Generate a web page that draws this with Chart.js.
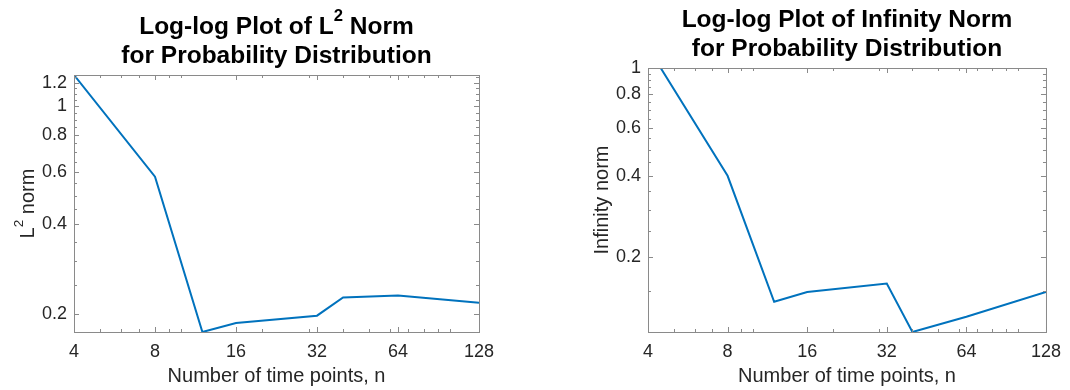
<!DOCTYPE html>
<html>
<head>
<meta charset="utf-8">
<script src="https://cdn.jsdelivr.net/npm/chart.js@4.4.1/dist/chart.umd.min.js"></script>
<style>
  body { margin: 0; background: #fff; }
  .panel { position: absolute; top: 0; width: 535px; height: 390px; }
</style>
</head>
<body>
<div class="panel" style="left:0"><canvas id="l2Chart" width="535" height="390"></canvas></div>
<div class="panel" style="left:535px"><canvas id="infChart" width="535" height="390"></canvas></div>
<script>
// number of time points and the two error norms
const timePoints = [4, 8, 12, 16, 32, 40, 64, 128];
const l2Norm = [1.274, 0.579, 0.1736, 0.186, 0.197, 0.2268, 0.2304, 0.2178];
const infNorm = [1.19, 0.4, 0.137, 0.149, 0.160, 0.106, 0.1206, 0.149];

// tick marks
const xTicks = [4, 8, 16, 32, 64, 128];
const xMinorTicks = [5, 6, 7, 9, 10, 20, 30, 40, 50, 60, 70, 80, 90, 100];
const l2Ticks = [0.2, 0.4, 0.6, 0.8, 1, 1.2];
const l2MinorTicks = [0.25, 0.3, 0.35, 0.45, 0.5, 0.55, 0.65, 0.7, 0.75, 0.85, 0.9, 0.95, 1.05, 1.1, 1.15, 1.25];
const infTicks = [0.2, 0.4, 0.6, 0.8, 1];
const infMinorTicks = [0.15, 0.25, 0.3, 0.35, 0.45, 0.5, 0.55, 0.65, 0.7, 0.75, 0.85, 0.9, 0.95];

const FONT = "'Liberation Sans', Arial, Helvetica, sans-serif";
const TEXT = '#262626';
const AXIS = '#8a8a8a';

Chart.defaults.font.family = FONT;
Chart.defaults.color = TEXT;

// draws a run of text pieces, some of them as superscripts, centred on x
function drawRich(ctx, pieces, x, y, size, weight) {
  const supSize = size * 0.68;
  const fontFor = p => `${weight} ${p.sup ? supSize : size}px ${FONT}`;
  let total = 0;
  pieces.forEach(p => { ctx.font = fontFor(p); total += ctx.measureText(p.t).width; });
  let cx = x - total / 2;
  ctx.textAlign = 'left';
  ctx.textBaseline = 'alphabetic';
  pieces.forEach(p => {
    ctx.font = fontFor(p);
    ctx.fillText(p.t, cx, p.sup ? y - size * 0.55 : y);
    cx += ctx.measureText(p.t).width;
  });
}

// box, inward ticks, title and y label
const matlabAxes = {
  id: 'matlabAxes',
  afterDatasetsDraw(chart, args, opts) {
    const { ctx, chartArea: a, scales: { x, y } } = chart;
    ctx.save();
    ctx.strokeStyle = AXIS;
    ctx.lineWidth = 1;
    ctx.beginPath();
    const xMarks = (list, len) => list.forEach(v => {
      const px = Math.round(x.getPixelForValue(v)) + 0.5;
      ctx.moveTo(px, a.bottom); ctx.lineTo(px, a.bottom - len);
      ctx.moveTo(px, a.top); ctx.lineTo(px, a.top + len);
    });
    const yMarks = (list, len) => list.forEach(v => {
      if (v < y.min || v > y.max) return;
      const py = Math.round(y.getPixelForValue(v)) + 0.5;
      ctx.moveTo(a.left, py); ctx.lineTo(a.left + len, py);
      ctx.moveTo(a.right, py); ctx.lineTo(a.right - len, py);
    });
    xMarks(xTicks, 5);
    xMarks(xMinorTicks, 3);
    yMarks(opts.major, 5);
    yMarks(opts.minor, 3);
    ctx.stroke();
    ctx.strokeRect(a.left + 0.5, a.top + 0.5, a.right - a.left, a.bottom - a.top);

    const midX = (a.left + a.right) / 2;
    ctx.fillStyle = '#000';
    drawRich(ctx, opts.title[0], midX, a.top - 41, 24.5, 'bold');
    drawRich(ctx, opts.title[1], midX, a.top - 12, 24.5, 'bold');

    ctx.fillStyle = TEXT;
    ctx.translate(a.left - 40, (a.top + a.bottom) / 2);
    ctx.rotate(-Math.PI / 2);
    drawRich(ctx, opts.yTitle, 0, 0, 20, 'normal');
    ctx.restore();
  }
};

function makeChart(id, values, yTicks, yMinor, yMax, pad, title, yTitle) {
  return new Chart(document.getElementById(id), {
    type: 'line',
    data: {
      datasets: [{
        data: timePoints.map((n, i) => ({ x: n, y: values[i] })),
        borderColor: '#0072BD',
        borderWidth: 2,
        pointRadius: 0,
        tension: 0
      }]
    },
    options: {
      responsive: false,
      animation: false,
      layout: { padding: { top: pad.top, right: pad.right, bottom: 0, left: 0 } },
      plugins: {
        legend: { display: false },
        tooltip: { enabled: false },
        matlabAxes: { major: yTicks, minor: yMinor, title: title, yTitle: yTitle }
      },
      scales: {
        x: {
          type: 'logarithmic',
          min: 4,
          max: 128,
          bounds: 'data',
          grid: { display: false, drawTicks: false },
          border: { display: false },
          afterBuildTicks: s => { s.ticks = xTicks.map(v => ({ value: v })); },
          afterFit: s => { s.height = 58; },
          ticks: {
            autoSkip: false,
            maxRotation: 0,
            padding: 9,
            color: TEXT,
            font: { size: 18 },
            callback: v => String(v)
          },
          title: {
            display: true,
            text: 'Number of time points, n',
            color: TEXT,
            font: { size: 20 },
            padding: { top: 0, bottom: 2 }
          }
        },
        y: {
          type: 'logarithmic',
          min: Math.min(...values),
          max: yMax,
          bounds: 'data',
          grid: { display: false, drawTicks: false },
          border: { display: false },
          afterBuildTicks: s => { s.ticks = yTicks.map(v => ({ value: v })); },
          afterFit: s => { s.width = pad.left; },
          ticks: {
            autoSkip: false,
            padding: 7,
            color: TEXT,
            font: { size: 18 },
            callback: v => String(v)
          }
        }
      }
    },
    plugins: [matlabAxes]
  });
}

makeChart('l2Chart', l2Norm, l2Ticks, l2MinorTicks, Math.max(...l2Norm),
  { top: 75, right: 56, left: 74 },
  [[{ t: 'Log-log Plot of L' }, { t: '2', sup: true }, { t: ' Norm' }],
   [{ t: 'for Probability Distribution' }]],
  [{ t: 'L' }, { t: '2', sup: true }, { t: ' norm' }]);

makeChart('infChart', infNorm, infTicks, infMinorTicks, 1,
  { top: 68, right: 22, left: 113 },
  [[{ t: 'Log-log Plot of Infinity Norm' }],
   [{ t: 'for Probability Distribution' }]],
  [{ t: 'Infinity norm' }]);
</script>
</body>
</html>
